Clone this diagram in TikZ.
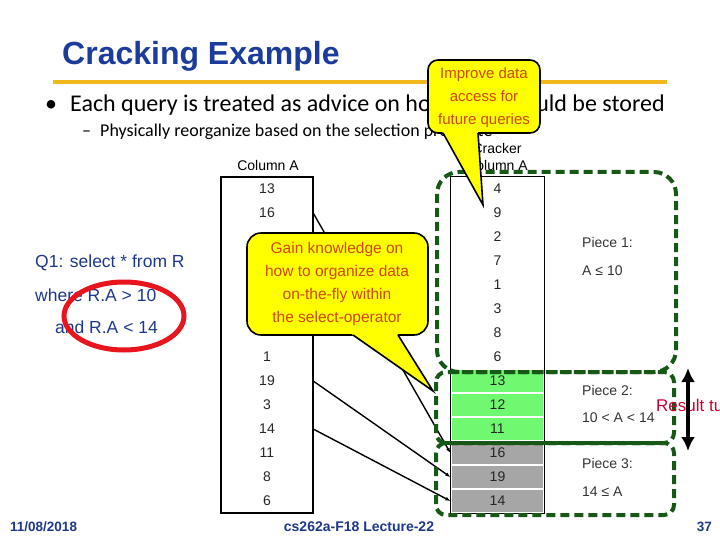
\documentclass[tikz,border=0pt]{standalone}
\usepackage{fontspec}
\setmainfont{Liberation Sans}
\newfontfamily\calib{Carlito}
\usetikzlibrary{arrows.meta,shapes.geometric}
\definecolor{titleblue}{RGB}{28,60,156}
\definecolor{footblue}{RGB}{30,55,135}
\definecolor{gold}{RGB}{240,184,28}
\definecolor{calltext}{RGB}{210,70,0}
\definecolor{dkgreen}{RGB}{22,88,22}
\definecolor{cellgreen}{RGB}{112,248,112}
\definecolor{cellgray}{RGB}{166,166,166}
\definecolor{ringred}{RGB}{232,20,30}
\definecolor{resred}{RGB}{204,0,51}
\definecolor{bubble}{RGB}{255,255,0}
\definecolor{qblue}{RGB}{30,55,140}
\begin{document}
\begin{tikzpicture}[x=1pt,y=-1pt,
  cellA/.style={minimum width=92pt,minimum height=24pt,inner sep=0pt,font=\fontsize{14}{14}\selectfont,text=black!85},
  cellC/.style={minimum width=93pt,minimum height=24pt,inner sep=0pt,font=\fontsize{14}{14}\selectfont,text=black!85,draw=white,line width=1.2pt},
  colbox/.style={draw=black,line width=1.6pt},
  conn/.style={draw=black,line width=1.4pt,-{Latex[length=5pt,width=4pt]}},
  piece/.style={draw=dkgreen,line width=4pt,dash pattern=on 9pt off 5pt},
  plabel/.style={anchor=west,inner sep=0pt,font=\fontsize{14}{14}\selectfont,text=black!80},
  qtext/.style={anchor=west,inner sep=0pt,font=\fontsize{17.5}{17.5}\selectfont,text=qblue},
  bubblebox/.style={draw=black,fill=bubble,line width=1.6pt},
  bubbletext/.style={align=center,inner sep=0pt,text=calltext},
  foot/.style={inner sep=0pt,font=\fontsize{13.5}{14}\selectfont\bfseries,text=footblue}
]
\useasboundingbox (0,0) rectangle (720,540);
\clip (0,0) rectangle (720,540);

% title and bullets
\node[anchor=base west,inner sep=0pt,font=\fontsize{32}{32}\selectfont\bfseries,text=titleblue] (title) at (62,65) {Cracking Example};
\coordinate (gl1) at (53,82);
\coordinate (gl2) at (667,82);
\draw[gold,line width=4pt] (gl1) -- (gl2);
\node[anchor=base west,inner sep=0pt,font=\calib\fontsize{24}{24}\selectfont] (dot1) at (45,112) {•};
\node[anchor=base west,inner sep=0pt,font=\calib\fontsize{24}{24}\selectfont] (b1) at (70,112) {Each query is treated as advice on how data should be stored};
\node[anchor=base west,inner sep=0pt,font=\calib\fontsize{18}{18}\selectfont] (dash1) at (82,137) {–};
\node[anchor=base west,inner sep=0pt,font=\calib\fontsize{18}{18}\selectfont] (b2) at (100,137) {Physically reorganize based on the selection predicate};

% column labels
\node[inner sep=0pt,font=\fontsize{14}{14}\selectfont] (labA) at (268,165) {Column A};
\node[inner sep=0pt,align=center,font=\fontsize{14}{17}\selectfont] (labC) at (497,157) {Cracker\\Column A};

% column A
\foreach \v [count=\i from 0] in {13,16,{},{},{},{},{},1,19,3,14,11,8,6}
  \node[cellA] (a\i) at (267,189+24*\i) {\v};
\draw[colbox] (a0.north west) rectangle (a13.south east);

% cracker column
\foreach \v/\f [count=\i from 0] in {4/white,9/white,2/white,7/white,1/white,3/white,8/white,6/white,13/cellgreen,12/cellgreen,11/cellgreen,16/cellgray,19/cellgray,14/cellgray}
  \node[cellC,fill=\f] (c\i) at (497.5,189+24*\i) {\v};
\draw[colbox] (c0.north west) rectangle (c13.south east);

% connectors
\draw[conn] (a1.east) -- (c11.west);
\draw[conn] (a8.east) -- (c12.west);
\draw[conn] (a10.east) -- (c13.west);

% pieces
\draw[piece,rounded corners=22pt] (437,172) rectangle (676,372);
\draw[piece,rounded corners=10pt] (436,372) rectangle (674,443);
\draw[piece,rounded corners=10pt] (436,443) rectangle (674,515);
\coordinate (sl1) at (441,443);
\coordinate (sl2) at (668,443);
\draw[dkgreen,line width=4pt] (sl1) -- (sl2);

\node[plabel] (p1a) at (582,242) {Piece 1:};
\node[plabel] (p1b) at (582,271) {A ≤ 10};
\node[plabel] (p2a) at (582,390) {Piece 2:};
\node[plabel] (p2b) at (582,418) {10 < A < 14};
\node[plabel] (p3a) at (582,463) {Piece 3:};
\node[plabel] (p3b) at (582,492) {14 ≤ A};

% query
\node[qtext] (q1) at (35,263) {Q1: select * from R};
\node[qtext] (q2) at (35,295) {where R.A > 10};
\node[qtext] (q3) at (55,327) {and R.A < 14};
\node[draw=ringred,line width=5pt,ellipse,minimum width=120pt,minimum height=68pt,inner sep=0pt] (ring) at (124,316) {};

% callout 2
\coordinate (tip2) at (433,391);
\draw[bubblebox,rounded corners=14pt] (247,233) rectangle (428,335);
\fill[bubble] (347.3,331) -- (tip2) -- (395.5,331) -- cycle;
\draw[line width=1.6pt,line join=miter] (353,335) -- (tip2) -- (398,335);
\node[bubbletext,font=\fontsize{15.5}{23}\selectfont] (gain) at (337,284) {Gain knowledge on\\how to organize data\\on-the-fly within\\the select-operator};

% callout 1
\coordinate (tip1) at (483,205);
\draw[bubblebox,rounded corners=10pt] (428,60) rectangle (540,133);
\fill[bubble] (440.8,129) -- (tip1) -- (477.7,129) -- cycle;
\draw[line width=1.6pt,line join=miter] (443,133) -- (tip1) -- (478,133);
\node[bubbletext,font=\fontsize{15}{23}\selectfont] (impr) at (484,98) {Improve data\\access for\\future queries};

% result
\node[anchor=west,inner sep=0pt,font=\fontsize{17}{17}\selectfont,text=resred] (res) at (656,407) {Result tuples};
\coordinate (ar1) at (688,368);
\coordinate (ar2) at (688,451);
\draw[line width=3.5pt,{Latex[length=14pt,width=14pt]}-{Latex[length=14pt,width=14pt]}] (ar1) -- (ar2);

% footer
\node[foot,anchor=west] (date) at (10,527) {11/08/2018};
\node[foot,font=\fontsize{14}{14}\selectfont\bfseries] (lect) at (359,527) {cs262a-F18 Lecture-22};
\node[foot,anchor=east] (pg) at (712,527) {37};
\end{tikzpicture}
\end{document}
